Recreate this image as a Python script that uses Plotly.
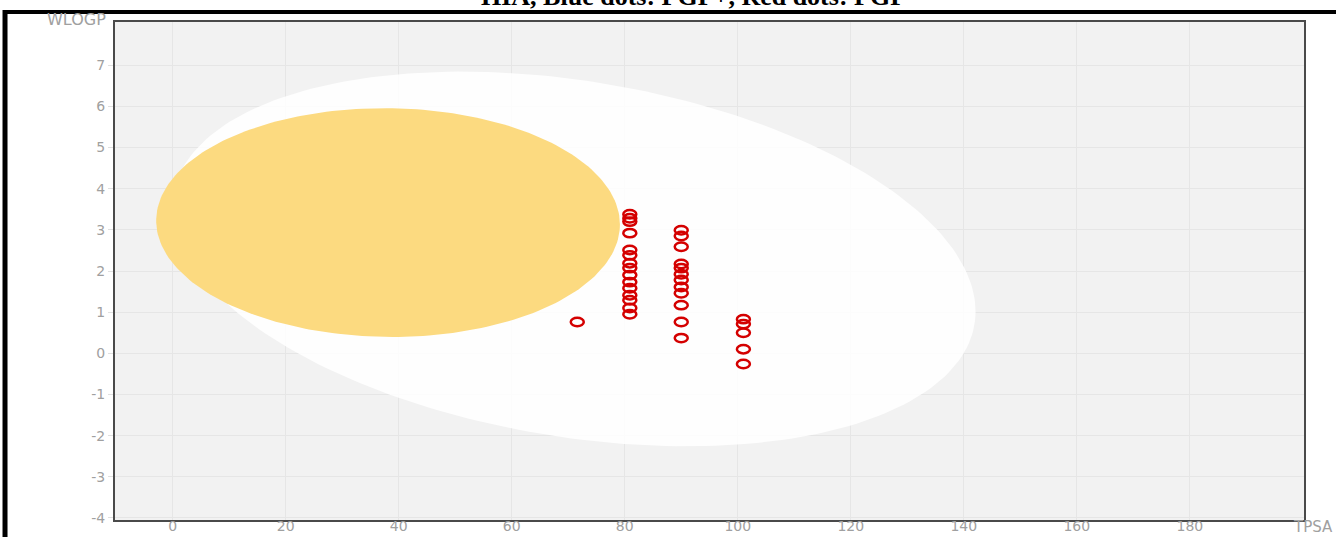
import numpy as np
import plotly.graph_objects as go

# BOILED-Egg regions: centre (TPSA, WLOGP), full axes, rotation in degrees
hia_center = (71.051, 2.292)
hia_axes = (142.081, 8.740)
hia_angle = -1.031325
bbb_center = (38.117, 3.177)
bbb_axes = (82.061, 5.557)
bbb_angle = -0.0655

# Molecules (PGP-), TPSA / WLOGP
tpsa_a = [80.9] * 15
wlogp_a = [3.38, 3.28, 3.20, 2.92, 2.51, 2.38, 2.19, 2.07, 1.90, 1.73, 1.58, 1.41, 1.29, 1.10, 0.95]
tpsa_b = [90.0] * 12
wlogp_b = [2.99, 2.85, 2.59, 2.17, 2.07, 1.92, 1.78, 1.61, 1.46, 1.17, 0.76, 0.37]
tpsa_c = [101.0] * 5
wlogp_c = [0.83, 0.71, 0.50, 0.10, -0.26]
tpsa_d = [71.6]
wlogp_d = [0.76]

tpsa = tpsa_a + tpsa_b + tpsa_c + tpsa_d
wlogp = wlogp_a + wlogp_b + wlogp_c + wlogp_d

x_ticks = [0, 20, 40, 60, 80, 100, 120, 140, 160, 180]
y_ticks = [-4, -3, -2, -1, 0, 1, 2, 3, 4, 5, 6, 7]
x_labels = [str(v) for v in x_ticks]
y_labels = [str(v) for v in y_ticks]


def ellipse_path(center, axes, angle_deg, n=240):
    t = np.linspace(0, 2 * np.pi, n)
    th = np.deg2rad(angle_deg)
    a, b = axes[0] / 2, axes[1] / 2
    x = center[0] + a * np.cos(t) * np.cos(th) - b * np.sin(t) * np.sin(th)
    y = center[1] + a * np.cos(t) * np.sin(th) + b * np.sin(t) * np.cos(th)
    return x, y


fig = go.Figure()

hx, hy = ellipse_path(hia_center, hia_axes, hia_angle)
fig.add_trace(go.Scatter(x=hx, y=hy, mode="lines", fill="toself",
                         fillcolor="rgba(255,255,255,0.88)", line=dict(width=0),
                         hoverinfo="skip", showlegend=False))
bx, by = ellipse_path(bbb_center, bbb_axes, bbb_angle)
fig.add_trace(go.Scatter(x=bx, y=by, mode="lines", fill="toself",
                         fillcolor="#fcda80", line=dict(width=0),
                         hoverinfo="skip", showlegend=False))

# invisible carrier trace for hover on the molecules
fig.add_trace(go.Scatter(x=tpsa, y=wlogp, mode="markers",
                         marker=dict(size=10, color="rgba(0,0,0,0)"),
                         showlegend=False))

shapes = []
# open oval markers for each molecule, sized in pixels
for xv, yv in zip(tpsa, wlogp):
    shapes.append(dict(type="circle", xref="x", yref="y",
                       xsizemode="pixel", ysizemode="pixel",
                       xanchor=xv, yanchor=yv,
                       x0=-6.5, x1=6.5, y0=-4.2, y1=4.2,
                       line=dict(color="#d40000", width=2.5),
                       fillcolor="rgba(0,0,0,0)", layer="above"))

# black frame lines (top and left)
shapes.append(dict(type="line", xref="paper", yref="paper",
                   x0=-0.0925, x1=1.03, y0=1.0201, y1=1.0201,
                   line=dict(color="black", width=4)))
shapes.append(dict(type="line", xref="paper", yref="paper",
                   x0=-0.0925, x1=-0.0925, y0=1.024, y1=-0.05,
                   line=dict(color="black", width=5)))

tick_font = dict(family="DejaVu Sans", size=14, color="#a0a0a0")

annotations = [
    dict(text="HIA, Blue dots: PGP+, Red dots: PGP-", xref="paper", yref="paper",
         x=0.49, y=1.018, xanchor="center", yanchor="bottom", showarrow=False,
         font=dict(family="Liberation Serif", size=26, color="black", weight="bold")),
    dict(text="WLOGP", xref="paper", yref="paper", x=-0.006, y=1.006,
         xanchor="right", yanchor="middle", showarrow=False,
         font=dict(family="DejaVu Sans", size=16, color="#a0a0a0")),
    dict(text="TPSA", xref="paper", yref="paper", x=1.026, y=-0.014,
         xanchor="right", yanchor="middle", showarrow=False,
         font=dict(family="DejaVu Sans", size=15, color="#a0a0a0")),
]

fig.update_layout(
    width=1336, height=537,
    margin=dict(l=115, r=32, t=22, b=17, autoexpand=False),
    paper_bgcolor="white", plot_bgcolor="#f2f2f2",
    shapes=shapes, annotations=annotations, showlegend=False,
)
fig.update_xaxes(range=[-10.2, 200.2], tickvals=x_ticks, ticktext=x_labels,
                 showgrid=True, gridcolor="#e6e6e6", gridwidth=1, zeroline=False,
                 showline=True, mirror=True, linecolor="#4a4a4a", linewidth=2,
                 ticks="", ticklabelstandoff=-8, tickfont=tick_font, automargin=False)
fig.update_yaxes(range=[-4.05, 8.05], tickvals=y_ticks, ticktext=y_labels,
                 showgrid=True, gridcolor="#e6e6e6", gridwidth=1, zeroline=False,
                 showline=True, mirror=True, linecolor="#4a4a4a", linewidth=2,
                 ticks="outside", ticklen=5, tickcolor="#e0e0e0",
                 tickfont=tick_font, automargin=False)

fig.write_html("out.html")
